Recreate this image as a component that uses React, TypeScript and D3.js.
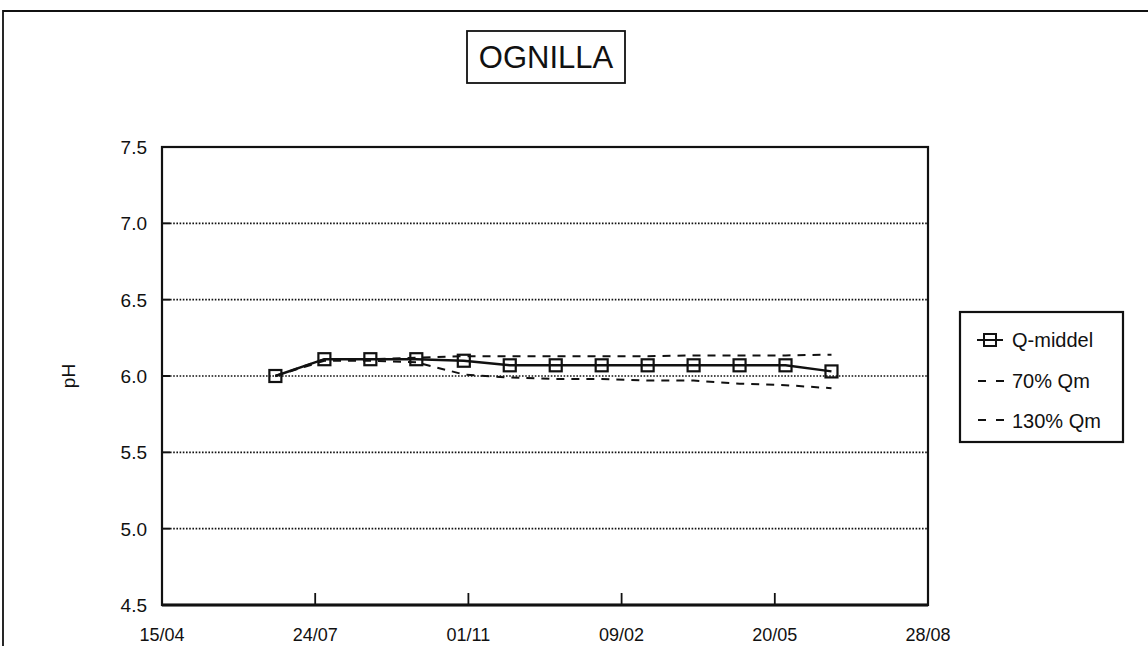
import React from "react";
import * as d3 from "d3";

const TITLE = "OGNILLA";
const Y_LABEL = "pH";

// sample dates and values
const dates = [
  "1990-06-28", "1990-07-30", "1990-08-29", "1990-09-28", "1990-10-29",
  "1990-11-28", "1990-12-28", "1991-01-27", "1991-02-26", "1991-03-28",
  "1991-04-27", "1991-05-27", "1991-06-26",
];
const qMiddel = [6.0, 6.11, 6.11, 6.11, 6.1, 6.07, 6.07, 6.07, 6.07, 6.07, 6.07, 6.07, 6.03];
const qm70 = [6.0, 6.1, 6.1, 6.09, 6.01, 5.99, 5.98, 5.98, 5.97, 5.97, 5.95, 5.94, 5.92];
const qm130 = [6.0, 6.11, 6.11, 6.12, 6.13, 6.13, 6.13, 6.13, 6.13, 6.135, 6.135, 6.135, 6.14];

const xDomain = ["1990-04-15", "1991-08-28"];
const xTicks = ["1990-04-15", "1990-07-24", "1990-11-01", "1991-02-09", "1991-05-20", "1991-08-28"];
const yTicks = [4.5, 5.0, 5.5, 6.0, 6.5, 7.0, 7.5];
const legendLabels = ["Q-middel", "70% Qm", "130% Qm"];

const W = 1148;
const H = 646;
const LEFT = 162;
const RIGHT = 928;
const TOP = 147;
const BOTTOM = 605;
const FONT = "'Liberation Sans', Arial, sans-serif";
const INK = "#111";

const parse = d3.utcParse("%Y-%m-%d");
const fmt = d3.utcFormat("%d/%m");

export default function App() {
  const x = d3
    .scaleUtc()
    .domain(xDomain.map((d) => parse(d) as Date))
    .range([LEFT, RIGHT]);
  const y = d3.scaleLinear().domain([4.5, 7.5]).range([BOTTOM, TOP]);

  const pts = (vals: number[]) =>
    vals.map((v, i) => [x(parse(dates[i]) as Date), y(v)] as [number, number]);
  const line = d3.line();

  const mid = pts(qMiddel);

  return (
    <svg
      width={W}
      height={H}
      style={{ position: "absolute", left: 0, top: 0, background: "#fff" }}
      fontFamily={FONT}
    >
      {/* outer frame */}
      <path d={`M${W + 5},11 H3 V${H + 5}`} fill="none" stroke={INK} strokeWidth={1.8} />

      {/* title */}
      <rect x={467} y={31} width={158} height={52} fill="none" stroke={INK} strokeWidth={1.8} />
      <text x={546} y={68} textAnchor="middle" fontSize={31} fill={INK}>
        {TITLE}
      </text>

      {/* grid lines + y ticks */}
      {yTicks.slice(1, -1).map((t) => (
        <g key={t}>
          <line x1={LEFT} x2={LEFT + 8} y1={y(t)} y2={y(t)} stroke={INK} strokeWidth={2} />
          <line
            x1={LEFT + 8}
            x2={RIGHT}
            y1={y(t)}
            y2={y(t)}
            stroke={INK}
            strokeWidth={1.6}
            strokeDasharray="1.6,1.6"
          />
        </g>
      ))}
      {yTicks.map((t) => (
        <text key={"l" + t} x={147} y={y(t) + 7} textAnchor="end" fontSize={19} fill={INK}>
          {t.toFixed(1)}
        </text>
      ))}

      {/* x ticks */}
      {xTicks.map((d, i) => {
        const xv = x(parse(d) as Date);
        return (
          <g key={d}>
            {i > 0 && i < xTicks.length - 1 && (
              <line x1={xv} x2={xv} y1={BOTTOM} y2={BOTTOM - 12} stroke={INK} strokeWidth={1.8} />
            )}
            <text x={xv} y={641} textAnchor="middle" fontSize={18} fill={INK}>
              {fmt(parse(d) as Date)}
            </text>
          </g>
        );
      })}

      {/* plot frame */}
      <rect
        x={LEFT}
        y={TOP}
        width={RIGHT - LEFT}
        height={BOTTOM - TOP}
        fill="none"
        stroke={INK}
        strokeWidth={2.2}
      />
      <line x1={LEFT} x2={RIGHT} y1={BOTTOM} y2={BOTTOM} stroke={INK} strokeWidth={3} />

      <text
        transform={`translate(75,${y(6.0)}) rotate(-90)`}
        textAnchor="middle"
        fontSize={19}
        fill={INK}
      >
        {Y_LABEL}
      </text>

      {/* series */}
      <path d={line(pts(qm70)) ?? ""} fill="none" stroke={INK} strokeWidth={2} strokeDasharray="8,7" />
      <path d={line(pts(qm130)) ?? ""} fill="none" stroke={INK} strokeWidth={2} strokeDasharray="8,7" />
      <path d={line(mid) ?? ""} fill="none" stroke={INK} strokeWidth={2.4} />
      {mid.map(([px, py], i) => (
        <rect key={i} x={px - 6} y={py - 6} width={12} height={12} fill="none" stroke={INK} strokeWidth={2.2} />
      ))}

      {/* legend */}
      <rect x={960} y={312} width={163} height={130} fill="none" stroke={INK} strokeWidth={2.2} />
      <line x1={977} x2={1003} y1={340} y2={340} stroke={INK} strokeWidth={2} />
      <rect x={984} y={334} width={12} height={12} fill="none" stroke={INK} strokeWidth={2} />
      <line x1={978} x2={1004} y1={381} y2={381} stroke={INK} strokeWidth={2} strokeDasharray="8,10" />
      <line x1={978} x2={1004} y1={420} y2={420} stroke={INK} strokeWidth={2} strokeDasharray="8,10" />
      {legendLabels.map((l, i) => (
        <text key={l} x={1012} y={[347, 388, 428][i]} fontSize={20} fill={INK}>
          {l}
        </text>
      ))}
    </svg>
  );
}
